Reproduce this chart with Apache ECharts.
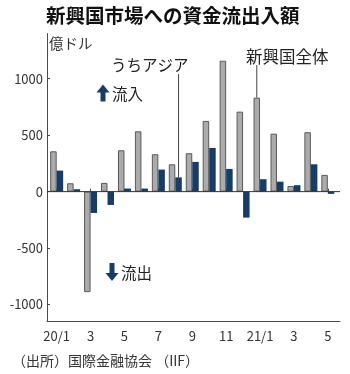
<!DOCTYPE html>
<html>
<head>
<meta charset="utf-8">
<script src="https://cdn.jsdelivr.net/npm/echarts@6/dist/echarts.min.js"></script>
<style>
  html, body { margin: 0; padding: 0; background: #fff; }
  #chart { width: 350px; height: 374px; }
</style>
</head>
<body>
<div id="chart"></div>
<script>
// Monthly capital flows into emerging markets (100 million USD)
const months = ['20/1', '2', '3', '4', '5', '6', '7', '8', '9', '10', '11', '12', '21/1', '2', '3', '4', '5'];
const totalEM = [357, 74, -890, 77, 366, 534, 331, 242, 340, 626, 1159, 708, 832, 513, 50, 526, 148];
const asiaEM = [186, 21, -189, -118, 27, 27, 195, 126, 263, 387, 201, -230, 110, 88, 57, 242, -20];
const yTicks = [-1000, -500, 0, 500, 1000];

const FONT = '"Noto Sans CJK JP", "Noto Sans", sans-serif';
const AXIS = '#4a4a4a';
const GRAY = '#ababab';
const NAVY = '#173d66';
const BAR_W = 6.5;
const Y_MIN = -1150, Y_MAX = 1400;

const chart = echarts.init(document.getElementById('chart'), null, { renderer: 'canvas' });

const option = {
  animation: false,
  backgroundColor: '#fff',
  textStyle: { fontFamily: FONT },
  grid: [
    // frame grid: axis lines and y labels
    { left: 47, right: 10, top: 33.5, height: 288, containLabel: false },
    // bar grid
    { left: 48.2, right: 13.7, top: 33.5, height: 288, containLabel: false }
  ],
  xAxis: [
    {
      gridIndex: 0, type: 'value', min: 0, max: 1,
      axisLine: { show: true, onZero: false, lineStyle: { color: AXIS, width: 1 } },
      axisTick: { show: false }, axisLabel: { show: false }, splitLine: { show: false }
    },
    {
      gridIndex: 1, type: 'category', data: months, boundaryGap: true,
      axisLine: { show: false },
      axisTick: { show: true, inside: true, length: 3, interval: 1, alignWithLabel: true,
                  lineStyle: { color: AXIS } },
      axisLabel: { interval: 1, margin: 8, color: '#333', fontSize: 13, fontFamily: FONT },
      splitLine: { show: false }
    }
  ],
  yAxis: [
    {
      gridIndex: 0, type: 'value', min: Y_MIN, max: Y_MAX,
      axisLine: { show: true, lineStyle: { color: AXIS, width: 1 } },
      axisTick: { show: true, inside: true, length: 3, customValues: yTicks, lineStyle: { color: AXIS } },
      axisLabel: { customValues: yTicks, margin: 4, color: '#333', fontSize: 13, fontFamily: FONT,
                   formatter: (v) => String(v) },
      splitLine: { show: false }
    },
    {
      gridIndex: 1, type: 'value', min: Y_MIN, max: Y_MAX, show: false,
      splitLine: { show: false }
    }
  ],
  series: [
    {
      // zero baseline across the plot
      type: 'line', xAxisIndex: 0, yAxisIndex: 0,
      data: [[0, 0], [1, 0]], symbol: 'none', silent: true,
      lineStyle: { color: '#333', width: 1 }, z: 5
    },
    {
      name: '新興国全体', type: 'bar', xAxisIndex: 1, yAxisIndex: 1,
      data: totalEM, barWidth: BAR_W, barGap: '0%',
      itemStyle: { color: GRAY, borderColor: '#5a5a5a', borderWidth: 1 }
    },
    {
      name: 'うちアジア', type: 'bar', xAxisIndex: 1, yAxisIndex: 1,
      data: asiaEM, barWidth: BAR_W, barGap: '0%',
      itemStyle: { color: NAVY }
    }
  ]
};
chart.setOption(option);

// leader lines to the annotated bars
const px = (i) => chart.convertToPixel({ xAxisIndex: 1 }, i);
const py = (v) => chart.convertToPixel({ yAxisIndex: 1 }, v);
const asiaX = px(7) + BAR_W / 2;
const totalX = px(12) - BAR_W / 2;

function arrow(cx, top, h, up) {
  const w = 13, sw = 5, hh = 8;
  const pts = up
    ? [[cx, top], [cx + w / 2, top + hh], [cx + sw / 2, top + hh], [cx + sw / 2, top + h],
       [cx - sw / 2, top + h], [cx - sw / 2, top + hh], [cx - w / 2, top + hh]]
    : [[cx, top + h], [cx + w / 2, top + h - hh], [cx + sw / 2, top + h - hh], [cx + sw / 2, top],
       [cx - sw / 2, top], [cx - sw / 2, top + h - hh], [cx - w / 2, top + h - hh]];
  return { type: 'polygon', shape: { points: pts }, style: { fill: NAVY }, z: 10 };
}

chart.setOption({
  graphic: [
    { type: 'text', left: 46, top: 6,
      style: { text: '新興国市場への資金流出入額', font: 'bold 19.5px ' + FONT, fill: '#111' } },
    { type: 'text', x: 49, y: 43,
      style: { text: '億ドル', font: '14.5px ' + FONT, fill: '#333', verticalAlign: 'middle' } },
    { type: 'text', x: 111, y: 65,
      style: { text: 'うちアジア', font: '15.5px ' + FONT, fill: '#222', verticalAlign: 'middle' } },
    { type: 'line', shape: { x1: asiaX, y1: 74, x2: asiaX, y2: py(asiaEM[7]) },
      style: { stroke: '#444', lineWidth: 1 }, z: 10 },
    { type: 'text', x: 246, y: 56.5,
      style: { text: '新興国全体', font: '16.5px ' + FONT, fill: '#222', verticalAlign: 'middle' } },
    { type: 'line', shape: { x1: totalX, y1: 65, x2: totalX, y2: py(totalEM[12]) },
      style: { stroke: '#444', lineWidth: 1 }, z: 10 },
    arrow(103, 84.5, 17, true),
    { type: 'text', x: 112, y: 94,
      style: { text: '流入', font: '15.5px ' + FONT, fill: '#222', verticalAlign: 'middle' } },
    arrow(112, 263, 18, false),
    { type: 'text', x: 121, y: 273,
      style: { text: '流出', font: '15.5px ' + FONT, fill: '#222', verticalAlign: 'middle' } },
    { type: 'text', x: 12, y: 361,
      style: { text: '（出所）国際金融協会 （IIF）', font: '14px ' + FONT, fill: '#333', verticalAlign: 'middle' } }
  ]
});
</script>
</body>
</html>
